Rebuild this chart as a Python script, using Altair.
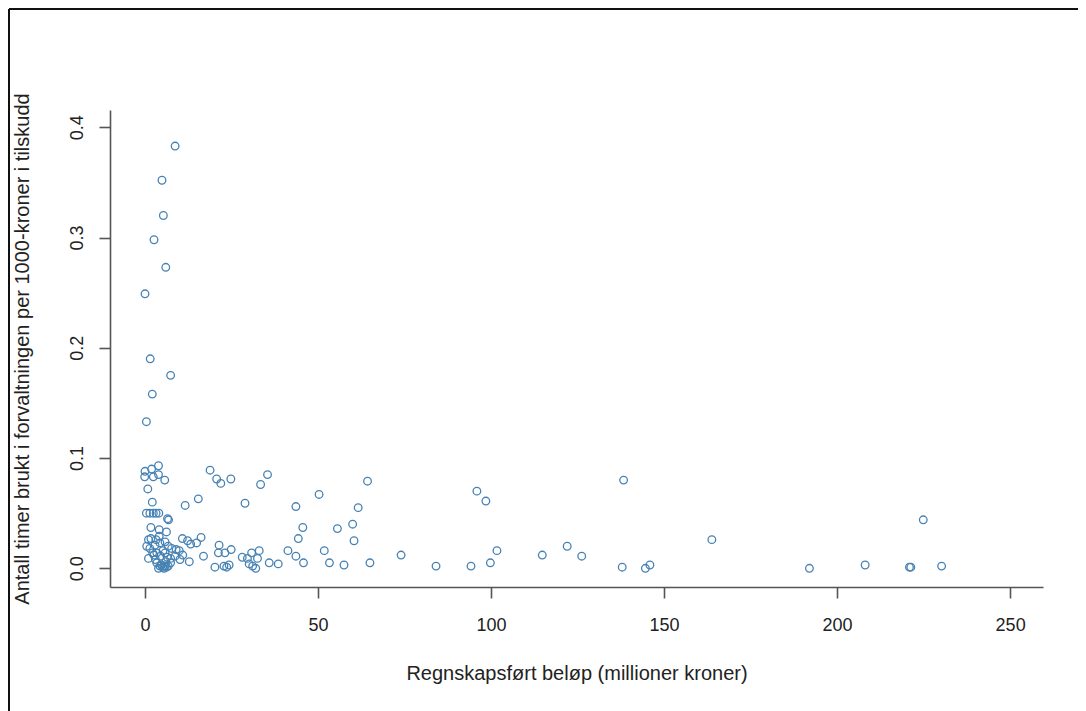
import altair as alt
import pandas as pd

# Regnskapsført beløp (millioner kroner)
x_vals = [
    8.7, 4.9, 5.3, 2.6, 6.0, 0.0, 1.5, 7.4, 2.1, 0.4,
    0.0, -0.1, 1.9, 3.9, 2.4, 3.9, 5.7, 0.8,
    2.1, 0.4, 1.4, 2.4, 3.2, 4.0, 6.5, 6.8, 1.7, 4.1, 6.2,
    1.0, 1.7, 3.2, 4.1, 0.5, 1.4, 2.9, 4.3, 5.8, 6.7, 7.7, 9.0, 9.9,
    1.0, 2.2, 3.4, 4.5, 5.8, 7.4, 8.7, 10.1, 3.4, 4.3, 5.1, 5.8, 6.7,
    7.4, 3.9, 4.8, 5.5, 6.2, 2.6, 3.0, 6.0, 5.2, 6.4,
    10.9, 12.8, 10.8, 12.3, 13.2, 14.9, 16.2, 16.9, 11.6, 15.4,
    18.8, 20.7, 21.9, 24.8, 33.4, 35.4, 28.9, 21.4, 21.2, 23.1,
    24.9, 20.2, 22.8, 23.6, 24.3, 28.1, 29.6, 30.8, 33.0, 30.1,
    31.1, 32.0, 32.5, 35.9, 38.5, 41.3, 43.6, 43.6, 44.3, 45.6, 45.8,
    50.3, 51.8, 53.3, 55.6, 57.5, 60.0, 60.4, 61.6, 64.3, 65.0,
    74.0, 84.1, 94.2, 95.9, 98.5, 99.8, 101.7, 114.8, 122.0, 126.2,
    138.3, 137.9, 144.6, 145.9, 163.8, 192.0, 208.1, 220.9, 221.3, 224.9, 230.2,
]

# Antall timer brukt i forvaltningen per 1000-kroner i tilskudd
y_vals = [
    0.383, 0.352, 0.320, 0.298, 0.273, 0.249, 0.190, 0.175, 0.158, 0.133,
    0.088, 0.083, 0.090, 0.093, 0.083, 0.085, 0.080, 0.072,
    0.060, 0.050, 0.050, 0.050, 0.050, 0.050, 0.045, 0.044, 0.037, 0.035, 0.033,
    0.026, 0.027, 0.026, 0.029, 0.020, 0.018, 0.021, 0.023, 0.024, 0.020, 0.018, 0.017, 0.016,
    0.009, 0.014, 0.014, 0.011, 0.014, 0.009, 0.011, 0.008, 0.005, 0.002, 0.001, 0.002, 0.002,
    0.005, 0.000, 0.003, 0.000, 0.001, 0.012, 0.008, 0.006, 0.016, 0.010,
    0.012, 0.006, 0.027, 0.025, 0.022, 0.023, 0.028, 0.011, 0.057, 0.063,
    0.089, 0.081, 0.077, 0.081, 0.076, 0.085, 0.059, 0.021, 0.014, 0.014,
    0.017, 0.001, 0.002, 0.001, 0.003, 0.010, 0.009, 0.014, 0.016, 0.004,
    0.002, 0.000, 0.009, 0.005, 0.004, 0.016, 0.011, 0.056, 0.027, 0.037, 0.005,
    0.067, 0.016, 0.005, 0.036, 0.003, 0.040, 0.025, 0.055, 0.079, 0.005,
    0.012, 0.002, 0.002, 0.070, 0.061, 0.005, 0.016, 0.012, 0.020, 0.011,
    0.080, 0.001, 0.000, 0.003, 0.026, 0.000, 0.003, 0.001, 0.001, 0.044, 0.002,
]

x_ticks = [0, 50, 100, 150, 200, 250]
y_ticks = [0.0, 0.1, 0.2, 0.3, 0.4]

x_title = "Regnskapsført beløp (millioner kroner)"
y_title = "Antall timer brukt i forvaltningen per 1000-kroner i tilskudd"

df = pd.DataFrame({"x": x_vals, "y": y_vals})

FONT = "Liberation Sans"

points = alt.Chart(df).mark_point(
    shape="circle", filled=False, size=58, strokeWidth=1.3,
    color="#4682b4", opacity=1,
).encode(
    x=alt.X(
        "x:Q",
        scale=alt.Scale(domain=[-10.12, 259.5], nice=False, zero=False),
        axis=alt.Axis(
            values=x_ticks, format="d", title=x_title, grid=False,
            domainColor="#555555", domainWidth=1.6, tickColor="#555555",
            tickWidth=1.6, tickSize=11, labelFontSize=18, labelFont=FONT,
            labelColor="#222222", labelPadding=18, titleFont=FONT,
            titleFontSize=20, titleFontWeight="normal", titleColor="#222222",
            titlePadding=29,
        ),
    ),
    y=alt.Y(
        "y:Q",
        scale=alt.Scale(domain=[-0.01696, 0.4157], nice=False, zero=False),
        axis=alt.Axis(
            values=y_ticks, format=".1f", title=y_title, grid=False,
            domainColor="#555555", domainWidth=1.6, tickColor="#555555",
            tickWidth=1.6, tickSize=11, labelFontSize=18, labelFont=FONT,
            labelColor="#222222", labelAngle=-90, labelAlign="center",
            labelBaseline="bottom", labelPadding=13, titleFont=FONT,
            titleFontSize=20, titleFontWeight="normal", titleColor="#222222",
            titlePadding=36,
        ),
    ),
)

frame_df = pd.DataFrame({"k": [0]})
top_line = alt.Chart(frame_df).mark_rule(color="#111111", strokeWidth=2).encode(
    x=alt.value(-101), x2=alt.value(970), y=alt.value(-101)
)
left_line = alt.Chart(frame_df).mark_rule(color="#111111", strokeWidth=2).encode(
    x=alt.value(-101), y=alt.value(-101), y2=alt.value(640)
)

chart = alt.layer(top_line, left_line, points).properties(
    width=933,
    height=477,
    autosize=alt.AutoSizeParams(type="none"),
    padding={"left": 102, "top": 102, "right": 35, "bottom": 124},
).configure_view(strokeWidth=0)

chart.save("out.html", embed_options={"renderer": "svg", "actions": False})
